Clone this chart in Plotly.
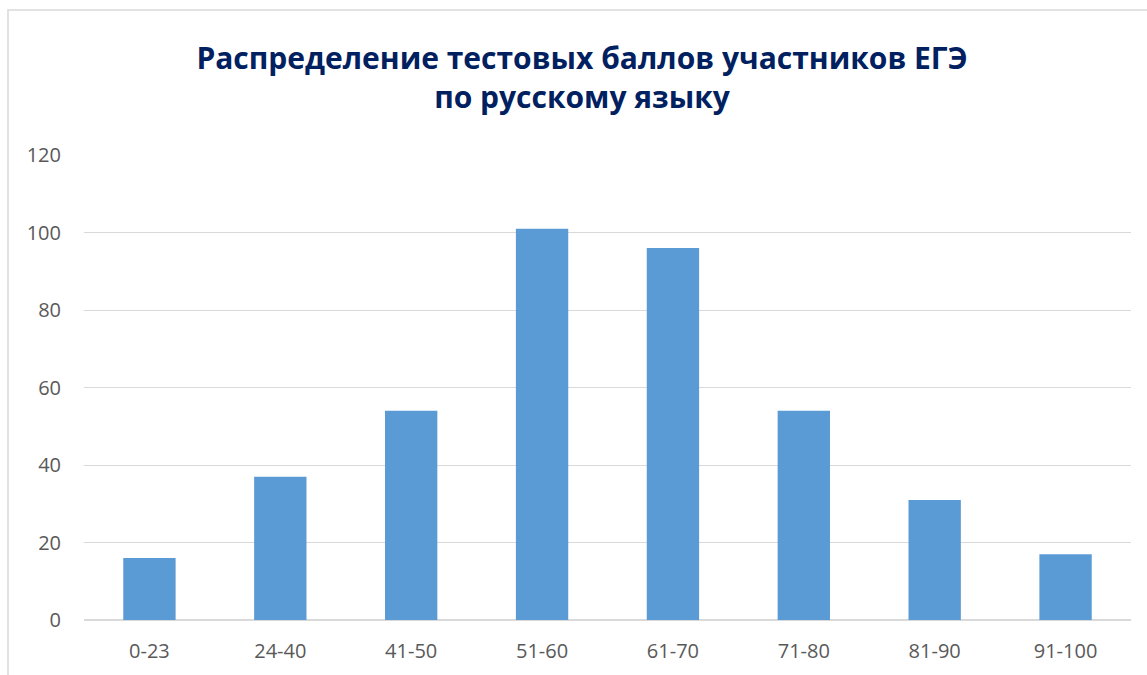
import plotly.graph_objects as go

categories = ["0-23", "24-40", "41-50", "51-60", "61-70", "71-80", "81-90", "91-100"]
values = [16, 37, 54, 101, 96, 54, 31, 17]
y_ticks = [0, 20, 40, 60, 80, 100, 120]

W, H = 1147, 675
ml, mr, mt, mb = 84, 16, 155, 55
pw = W - ml - mr
ph = H - mt - mb

fig = go.Figure(go.Bar(x=categories, y=values, marker=dict(color="#5B9BD5", line=dict(width=0)),
                       hoverinfo="x+y"))

fig.update_layout(
    width=W, height=H,
    margin=dict(l=ml, r=mr, t=mt, b=mb),
    paper_bgcolor="white", plot_bgcolor="white",
    bargap=0.6,
    showlegend=False,
    title=dict(
        text="Распределение тестовых баллов участников ЕГЭ<br>по русскому языку",
        x=582 / W, xanchor="center", xref="container", y=1 - 69 / H, yanchor="middle",
        font=dict(family="Open Sans", size=30, color="#002060", weight="bold"),
    ),
    font=dict(family="Open Sans", color="#595959"),
    xaxis=dict(showgrid=False, showline=False, ticks="", tickfont=dict(size=20, color="#595959"),
               zeroline=False),
    yaxis=dict(range=[0, 120], tickvals=y_ticks, showgrid=True, gridcolor="#D9D9D9", gridwidth=1,
               zeroline=True, zerolinecolor="#D9D9D9", zerolinewidth=1.5, showline=False,
               ticks="", tickfont=dict(size=20, color="#595959"), ticklabelstandoff=22),
    shapes=[dict(type="rect", xref="paper", yref="paper",
                 x0=(8 - ml) / pw, x1=(W + 20 - ml) / pw,
                 y0=-(H + 20 - (H - mb)) / ph, y1=(H - mb - 10) / ph,
                 line=dict(color="#D9D9D9", width=1.5), fillcolor="rgba(0,0,0,0)", layer="below")],
)
fig.update_xaxes(ticklabelstandoff=17)

fig.write_html("out.html", config={"displayModeBar": False})

with open("out.html", encoding="utf-8") as f:
    html = f.read()
html = html.replace("<head>", "<head><style>html,body{margin:0;padding:0;overflow:hidden;}</style>", 1)
with open("out.html", "w", encoding="utf-8") as f:
    f.write(html)
